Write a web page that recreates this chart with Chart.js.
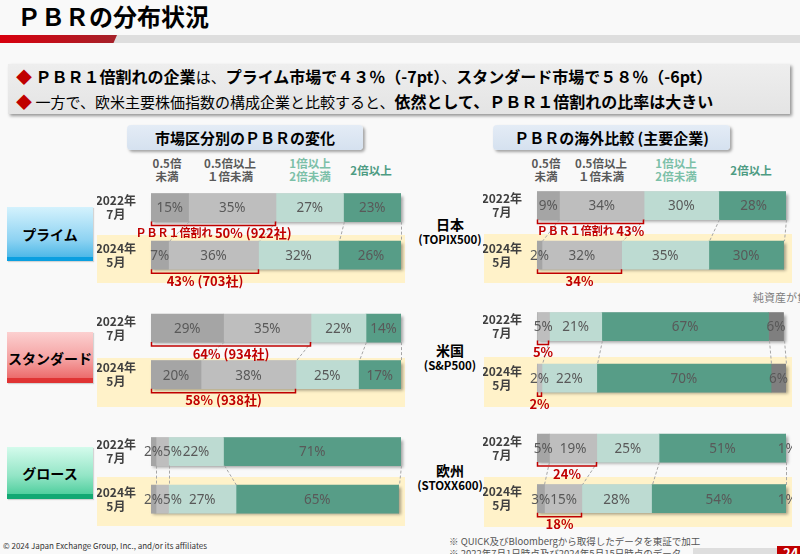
<!DOCTYPE html>
<html><head><meta charset="utf-8">
<script src="https://cdn.jsdelivr.net/npm/chart.js@4.4.1/dist/chart.umd.min.js"></script>
<style>
html,body{margin:0;padding:0}
body{width:800px;height:554px;overflow:hidden;background:#f9f9f9;font-family:"Noto Sans CJK JP","Noto Sans",sans-serif;position:relative;color:#000}
.a{position:absolute;white-space:nowrap}
.c{text-align:center}
.hdr{font-size:11.5px;font-weight:bold;line-height:12.5px;text-align:center;width:90px}
.yel{position:absolute;background:#fff2c9}
.grp{position:absolute;width:86px;display:flex;align-items:center;justify-content:center;font-weight:bold;font-size:14px;box-shadow:1px 1px 1px rgba(0,0,0,.15)}
.ttl{position:absolute;height:25px;line-height:25px;text-align:center;font-weight:bold;font-size:15px;border-radius:4px;background:linear-gradient(#e4ecf6,#d5e1ef);box-shadow:2px 2px 3px rgba(0,0,0,.35)}
.rg1{font-size:14px;font-weight:bold;line-height:16px}
.rg2{font-size:11.5px;font-weight:bold;line-height:14px}
.red{color:#c00000}
.n{font-size:15px}
canvas{position:absolute}
</style></head>
<body>
<script>
// ---------- data ----------
const periods = [['2022年','7月'],['2024年','5月']];
const bands = ['0.5倍未満','0.5倍以上1倍未満','1倍以上2倍未満','2倍以上','純資産が負'];
// 市場区分別 (Japan market segments)
const prime2022    = [15, 35, 27, 23, 0];
const prime2024    = [ 7, 36, 32, 26, 0];
const standard2022 = [29, 35, 22, 14, 0];
const standard2024 = [20, 38, 25, 17, 0];
const growth2022   = [ 2,  5, 22, 71, 0];
const growth2024   = [ 2,  5, 27, 65, 0];
const primeCompanies    = [922, 703];
const standardCompanies = [934, 938];
// 海外比較 (major index constituents)
const japan2022  = [9, 34, 30, 28, 0];
const japan2024  = [2, 32, 35, 30, 0];
const us2022     = [0,  5, 21, 67, 6];
const us2024     = [0,  2, 22, 70, 6];
const europe2022 = [5, 19, 25, 51, 1];
const europe2024 = [3, 15, 28, 54, 1];
const belowOneLabel = 'ＰＢＲ１倍割れ ';
</script>

<!-- title -->
<div class="a" style="left:17px;top:0px;font-size:24px;font-weight:bold;line-height:32px">ＰＢＲの分布状況</div>
<div class="a" style="left:0;top:35px;width:800px;height:8px;background:#dedede"></div>
<div class="a" style="left:0;top:35px;width:117px;height:8px;background:linear-gradient(90deg,#d8000e,#a5222a);clip-path:polygon(0 0,100% 0,97% 100%,0 100%)"></div>

<!-- banner -->
<div class="a" style="left:8px;top:64px;width:782px;height:50px;background:linear-gradient(#eeeeee,#e4e4e4);box-shadow:2px 2px 3px rgba(0,0,0,.4)"></div>
<div class="a" style="left:16px;top:65px;font-size:16px;line-height:22px"><span class="red">◆</span> <b>ＰＢＲ１倍割れの企業</b><span class="n">は、</span><b>プライム市場で４３％（-7pt）</b><span class="n">、</span><b>スタンダード市場で５８％（-6pt）</b></div>
<div class="a" style="left:16px;top:90px;font-size:16px;line-height:22px"><span class="red">◆</span> <span class="n">一方で、欧米主要株価指数の構成企業と比較すると、</span><b>依然として、ＰＢＲ１倍割れの比率は大きい</b></div>

<!-- section titles -->
<div class="ttl" style="left:127px;top:125px;width:236px">市場区分別のＰＢＲの変化</div>
<div class="ttl" style="left:493px;top:125px;width:237px">ＰＢＲの海外比較 (主要企業)</div>

<!-- column headers left -->
<div class="a hdr" style="left:122px;top:157px;color:#595959">0.5倍<br>未満</div>
<div class="a hdr" style="left:185px;top:157px;color:#595959">0.5倍以上<br>１倍未満</div>
<div class="a hdr" style="left:265px;top:157px;color:#7cc0a8">1倍以上<br>2倍未満</div>
<div class="a hdr" style="left:326px;top:164px;color:#4e9c83">2倍以上</div>
<!-- column headers right -->
<div class="a hdr" style="left:501px;top:157px;color:#595959">0.5倍<br>未満</div>
<div class="a hdr" style="left:556px;top:157px;color:#595959">0.5倍以上<br>１倍未満</div>
<div class="a hdr" style="left:631px;top:157px;color:#7cc0a8">1倍以上<br>2倍未満</div>
<div class="a hdr" style="left:706px;top:164px;color:#4e9c83">2倍以上</div>

<!-- yellow highlights -->
<div class="yel" style="left:97px;top:235px;width:308px;height:48px"></div>
<div class="yel" style="left:97px;top:358px;width:308px;height:49px"></div>
<div class="yel" style="left:97px;top:477px;width:308px;height:49px"></div>
<div class="yel" style="left:484px;top:234px;width:308px;height:49px"></div>
<div class="yel" style="left:484px;top:357px;width:308px;height:50px"></div>
<div class="yel" style="left:484px;top:477px;width:308px;height:50px"></div>

<!-- left group boxes -->
<div class="grp" style="left:7px;top:207px;height:54px;background:linear-gradient(#d4f2fd 0%,#8fd3f2 60%,#4fb9e8 92%,#0a9fe0 92%,#0a9fe0 100%)">プライム</div>
<div class="grp" style="left:7px;top:332px;height:51px;background:linear-gradient(#fcd0d0 0%,#f4a0a0 55%,#ec6c6c 90%,#e03434 90%,#e03434 100%)">スタンダード</div>
<div class="grp" style="left:7px;top:447px;height:52px;background:linear-gradient(#d4fbec 0%,#93e5c6 55%,#52cf9f 90%,#12a873 90%,#12a873 100%)">グロース</div>

<!-- right group labels -->
<div class="a c" style="left:400px;top:216px;width:100px"><div class="rg1">日本</div><div class="rg2">(TOPIX500)</div></div>
<div class="a c" style="left:400px;top:342px;width:100px"><div class="rg1">米国</div><div class="rg2">(S&amp;P500)</div></div>
<div class="a c" style="left:400px;top:462px;width:100px"><div class="rg1">欧州</div><div class="rg2">(STOXX600)</div></div>
<div class="a" style="left:753px;top:290px;font-size:11px;line-height:15px;color:#7f7f7f">純資産が負の企業</div>

<!-- footer -->
<div class="a" style="left:3px;top:540px;font-size:8px;line-height:12px;color:#333">© 2024 Japan Exchange Group, Inc., and/or its affiliates</div>
<div class="a" style="left:449px;top:535px;font-size:9.5px;line-height:12px;color:#555">※ QUICK及びBloombergから取得したデータを東証で加工</div>
<div class="a" style="left:449px;top:547px;font-size:9.5px;line-height:12px;color:#555">※ 2022年7月1日時点及び2024年5月15日時点のデータ</div>
<div class="a" style="left:693px;top:548px;width:84px;height:8px;background:#dedede"></div>
<div class="a" style="left:777px;top:546px;width:30px;height:10px;background:#c00000;color:#fff;font-size:13px;font-weight:bold;line-height:14px;overflow:hidden;padding-left:6px">24</div>

<canvas id="cPrime"></canvas>
<canvas id="cStandard"></canvas>
<canvas id="cGrowth"></canvas>
<canvas id="cJapan"></canvas>
<canvas id="cUS"></canvas>
<canvas id="cEurope"></canvas>

<script>
const bandColors = ['#a5a5a5','#bebebe','#bddbd2','#579d87','#7f7f7f'];
const PT = 14, PB = 42, BAR = 28;
const VALUE_FONT = '13.5px "Noto Sans", sans-serif';
const BIG_RED = 'bold 13px "Noto Sans CJK JP", sans-serif';
const SMALL_RED = 'bold 11px "Noto Sans CJK JP", sans-serif';

const decor = {
  id: 'decor',
  beforeDatasetsDraw(chart) {
    const ctx = chart.ctx, xs = chart.scales.x;
    const ds = chart.data.datasets;
    const meta = chart.getDatasetMeta(0);
    ctx.save();
    ctx.shadowColor = 'rgba(0,0,0,0.35)';
    ctx.shadowBlur = 3; ctx.shadowOffsetX = 2; ctx.shadowOffsetY = 2;
    ctx.fillStyle = '#aaa';
    meta.data.forEach((el, i) => {
      let tot = 0; ds.forEach(d => tot += d.data[i]);
      const x0 = xs.getPixelForValue(0), x1 = xs.getPixelForValue(Math.min(100, tot));
      ctx.fillRect(x0, el.y - BAR / 2, x1 - x0, BAR);
    });
    ctx.restore();
  },
  afterDatasetsDraw(chart, args, opts) {
    const ctx = chart.ctx, xs = chart.scales.x;
    const ds = chart.data.datasets;
    const metas = ds.map((d, k) => chart.getDatasetMeta(k));
    const y0 = metas[0].data[0].y, y1 = metas[0].data[1].y;
    ctx.save();
    // dashed connectors between the two periods
    ctx.strokeStyle = '#a6a6a6'; ctx.lineWidth = 1; ctx.setLineDash([3, 2]);
    let c0 = 0, c1 = 0;
    ds.forEach((d, k) => {
      c0 += d.data[0]; c1 += d.data[1];
      if (d.data[0] === 0 && d.data[1] === 0) return;
      if (c0 === 0 && c1 === 0) return;
      ctx.beginPath();
      ctx.moveTo(Math.round(xs.getPixelForValue(Math.min(100, c0))) + 0.5, y0 + BAR / 2);
      ctx.lineTo(Math.round(xs.getPixelForValue(Math.min(100, c1))) + 0.5, y1 - BAR / 2);
      ctx.stroke();
    });
    ctx.setLineDash([]);
    // value labels inside segments (pushed right if they would overlap)
    ctx.textAlign = 'center'; ctx.textBaseline = 'middle';
    ctx.font = VALUE_FONT;
    [0, 1].forEach(i => {
      let lastRight = -1e9;
      metas.forEach((m, k) => {
        const el = m.data[i];
        const v = ds[k].data[i];
        if (!v) return;
        const txt = v + '%';
        const w = Math.abs(el.x - el.base);
        const tw = ctx.measureText(txt).width;
        let cx = (el.x + el.base) / 2;
        if (cx - tw / 2 < lastRight) cx = lastRight + tw / 2;
        lastRight = cx + tw / 2;
        ctx.fillStyle = (k === 4 && w > tw) ? '#f0f0f0' : '#595959';
        ctx.fillText(txt, cx, el.y + 1);
      });
    });
    // brackets for PBR < 1
    if (opts.brackets) {
      [0, 1].forEach(i => {
        const share = ds[0].data[i] + ds[1].data[i];
        const x0 = Math.round(xs.getPixelForValue(0)) + 0.5;
        const x1 = Math.round(xs.getPixelForValue(share)) - 0.5;
        const yb = metas[0].data[i].y + BAR / 2;
        ctx.strokeStyle = '#c00000'; ctx.lineWidth = 1.5;
        ctx.beginPath();
        ctx.moveTo(x0, yb); ctx.lineTo(x0, yb + 4); ctx.lineTo(x1, yb + 4); ctx.lineTo(x1, yb);
        ctx.stroke();
        const pre = (i === 0 && opts.prefix) ? opts.prefix : '';
        let main = share + '%';
        if (opts.companies) main += ' (' + opts.companies[i] + '社)';
        ctx.font = SMALL_RED; const pw = pre ? ctx.measureText(pre).width : 0;
        ctx.font = BIG_RED; const mw = ctx.measureText(main).width;
        let left = (x0 + x1) / 2 - (pw + mw) / 2;
        if (left < x0 - 24) left = x0 - 24;
        const ty = yb + 11.5;
        ctx.fillStyle = '#c00000';
        ctx.textAlign = 'left';
        if (pre) { ctx.font = SMALL_RED; ctx.fillText(pre, left, ty); }
        ctx.font = BIG_RED; ctx.fillText(main, left + pw, ty);
      });
    }
    ctx.restore();
  }
};

function build(id, rows, left, width, centers, opts) {
  const d = centers[1] - centers[0];
  const h = 2 * d;
  const top = Math.round(centers[0] - d / 2 - PT);
  const cv = document.getElementById(id);
  cv.width = width; cv.height = h + PT + PB;
  cv.style.left = left + 'px'; cv.style.top = top + 'px';
  const datasets = bands.map((b, k) => ({
    label: b,
    data: rows.map(r => r[k]),
    backgroundColor: bandColors[k],
    borderWidth: 0,
    barThickness: BAR
  }));
  new Chart(cv, {
    type: 'bar',
    data: { labels: periods, datasets },
    options: {
      indexAxis: 'y', responsive: false, animation: false, devicePixelRatio: 1, events: [],
      layout: { padding: { top: PT, bottom: PB, left: 0, right: 6 } },
      scales: {
        x: { type: 'linear', stacked: true, min: 0, max: 100, display: false },
        y: {
          stacked: true, grid: { display: false }, border: { display: false },
          ticks: { color: '#404040', crossAlign: 'center', padding: 7,
                   font: { family: '"Noto Sans CJK JP", sans-serif', size: 12, weight: 'bold', lineHeight: 1.15 } },
          afterFit(s) { s.width = 54; }
        }
      },
      plugins: { legend: { display: false }, tooltip: { enabled: false }, decor: opts }
    },
    plugins: [decor]
  });
}

build('cPrime',    [prime2022, prime2024],       97, 310, [202, 253], { brackets: true, prefix: belowOneLabel, companies: primeCompanies });
build('cStandard', [standard2022, standard2024], 97, 310, [323, 373], { brackets: true, companies: standardCompanies });
build('cGrowth',   [growth2022, growth2024],     97, 310, [446, 497], { brackets: false });
build('cJapan',    [japan2022, japan2024],      483, 309, [200, 253], { brackets: true, prefix: belowOneLabel });
build('cUS',       [us2022, us2024],            483, 309, [321, 376], { brackets: true });
build('cEurope',   [europe2022, europe2024],    483, 309, [443, 497], { brackets: true });
</script>
</body></html>
